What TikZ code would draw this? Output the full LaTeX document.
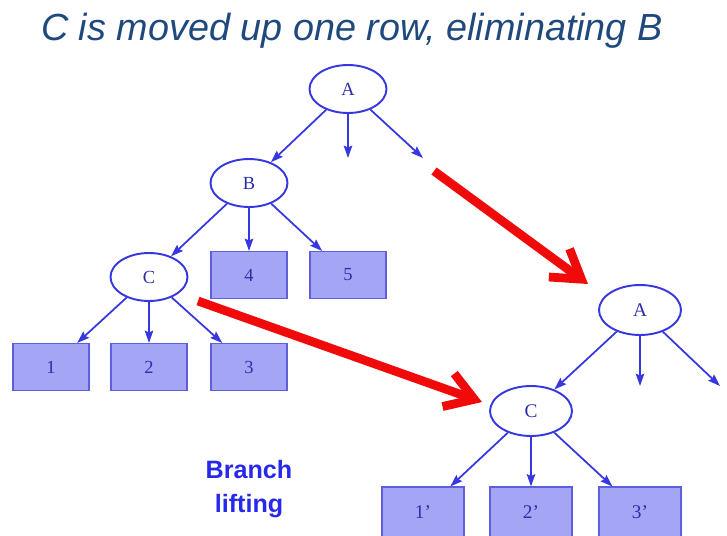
\documentclass[tikz,border=0pt]{standalone}
\usepackage{fontspec}
\setmainfont{Liberation Serif}
\newfontfamily\headfont{Liberation Sans}
\usetikzlibrary{arrows.meta,shapes.geometric}

\definecolor{headblue}{RGB}{31,73,125}
\definecolor{treeblue}{RGB}{55,55,225}
\definecolor{treetext}{RGB}{45,45,170}
\definecolor{boxfill}{RGB}{165,165,245}
\definecolor{boxline}{RGB}{95,95,220}
\definecolor{liftblue}{RGB}{40,40,235}
\definecolor{liftred}{RGB}{240,10,10}

\begin{document}
\begin{tikzpicture}[x=0.02cm, y=-0.02cm,
    inner/.style={draw=treeblue, line width=1.1pt, fill=white, ellipse, inner sep=0pt,
        minimum width=1.54cm, minimum height=0.96cm, text=treetext, font=\fontsize{10.5}{11}\selectfont},
    leaf/.style={draw=boxline, line width=0.6pt, fill=boxfill, inner sep=0pt,
        minimum width=1.52cm, minimum height=0.94cm, text=treetext, font=\fontsize{10.5}{11}\selectfont},
    big/.style={minimum width=1.64cm, minimum height=1.0cm, font=\fontsize{11}{12}\selectfont},
    link/.style={draw=treeblue, line width=1pt, -{Stealth[length=7pt, width=4.8pt, inset=1pt]}},
    lift/.style={draw=liftred, line width=5pt, -{Straight Barb[length=0.55cm, width=0.7cm, line width=5pt]}}]
        \useasboundingbox (0,0) rectangle (727,535);

        \node[anchor=base, text=headblue, font=\headfont\itshape\fontsize{21.5}{24}\selectfont]
            (head) at (352,40) {C is moved up one row, eliminating B};

        % tree before lifting
        \node[inner] (A) at (348,89) {A};
        \node[inner] (B) at (249,183) {B};
        \node[inner] (C) at (149,277) {C};
        \node[leaf] (4) at (249,275) {4};
        \node[leaf] (5) at (348,275) {5};
        \node[leaf] (1) at (51,367) {1};
        \node[leaf] (2) at (149,367) {2};
        \node[leaf] (3) at (249,367) {3};
        \coordinate (a2) at (348,158);
        \coordinate (a3) at (423,158);

        \draw[link] (A) -- (B);
        \draw[link] (A.south) -- (a2);
        \draw[link] (A) -- (a3);
        \draw[link] (B) -- (C);
        \draw[link] (B) -- (4);
        \draw[link] (B) -- (5);
        \draw[link] (C) -- (1);
        \draw[link] (C) -- (2);
        \draw[link] (C) -- (3);

        % tree after lifting
        \node[inner, big] (A') at (640,310) {A};
        \node[inner, big] (C') at (531,411) {C};
        \node[leaf, big] (1') at (423,512) {1'};
        \node[leaf, big] (2') at (531,512) {2'};
        \node[leaf, big] (3') at (640,512) {3'};
        \coordinate (a2') at (640,386);
        \coordinate (a3') at (720,386);

        \draw[link] (A') -- (C');
        \draw[link] (A'.south) -- (a2');
        \draw[link] (A') -- (a3');
        \draw[link] (C') -- (1');
        \draw[link] (C'.south) -- (2');
        \draw[link] (C') -- (3');

        % red moves
        \coordinate (from1) at (434,171);
        \coordinate (to1) at (588,284);
        \coordinate (from2) at (198,301);
        \coordinate (to2) at (482,402);
        \draw[lift] (from1) -- (to1);
        \draw[lift] (from2) -- (to2);

        \node[align=center, text=liftblue, font=\headfont\bfseries\fontsize{14.3}{19}\selectfont]
            (note) at (249,489) {Branch\\lifting};
    \end{tikzpicture}
\end{document}
